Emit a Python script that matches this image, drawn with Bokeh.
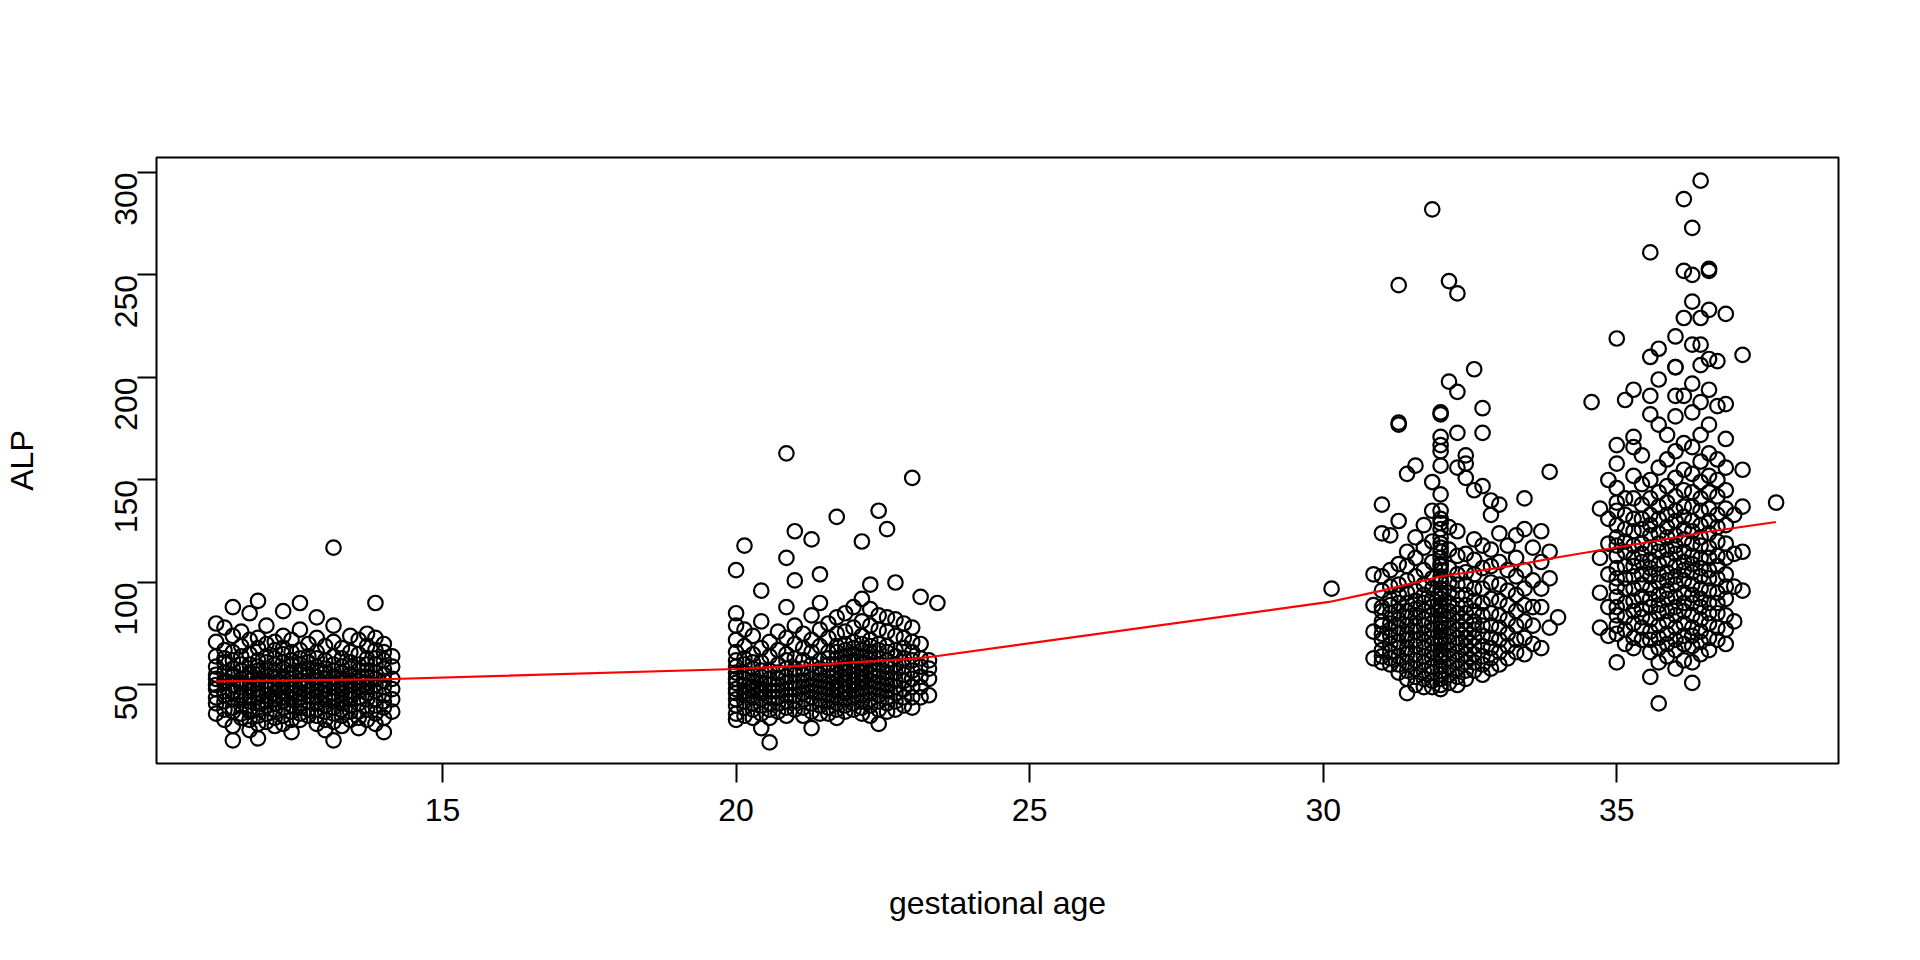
import math
from bokeh.plotting import figure
from bokeh.models import ColumnDataSource, Range1d, FixedTicker
from bokeh.embed import file_html
from bokeh.resources import INLINE

# ALP measurements by gestational age in days (x axis = days / 7 -> weeks)
visit1 = {
    78: [36, 41, 44, 48, 50, 53, 55, 59, 64, 71, 80],
    79: [33, 38, 42, 45, 47, 51, 52, 56, 61, 63, 67, 78],
    80: [23, 30, 37, 39, 43, 46, 47, 50, 54, 55, 58, 62, 66, 74, 88],
    81: [34, 36, 40, 44, 45, 49, 51, 53, 57, 60, 64, 69, 76],
    82: [28, 33, 37, 38, 42, 44, 47, 49, 52, 55, 56, 60, 65, 72, 85],
    83: [24, 31, 35, 39, 41, 44, 46, 48, 51, 53, 57, 59, 62, 68, 73, 91],
    84: [32, 36, 40, 42, 45, 48, 50, 52, 55, 58, 61, 64, 70, 79],
    85: [30, 34, 38, 41, 43, 46, 49, 51, 54, 57, 60, 63, 67, 71],
    86: [31, 35, 39, 42, 44, 47, 50, 53, 54, 58, 61, 65, 68, 74, 86],
    87: [27, 33, 37, 40, 43, 46, 48, 51, 53, 56, 60, 62, 66, 72],
    88: [33, 36, 39, 41, 44, 46, 49, 52, 55, 57, 60, 63, 67, 77, 90],
    89: [35, 38, 42, 45, 47, 50, 52, 55, 58, 61, 64, 70],
    90: [31, 35, 38, 41, 44, 47, 49, 52, 54, 57, 59, 63, 66, 73, 83],
    91: [28, 33, 37, 40, 43, 45, 48, 50, 53, 56, 58, 62, 69],
    92: [23, 32, 36, 39, 42, 44, 46, 49, 51, 54, 57, 60, 64, 71, 79, 117],
    93: [30, 35, 38, 41, 43, 46, 48, 51, 53, 56, 59, 63, 68],
    94: [33, 37, 40, 43, 45, 47, 50, 52, 55, 58, 61, 66, 74],
    95: [29, 34, 37, 41, 44, 47, 49, 52, 54, 57, 60, 65, 72],
    96: [33, 38, 43, 46, 49, 51, 54, 57, 60, 63, 69, 75],
    97: [31, 36, 40, 43, 47, 50, 53, 56, 60, 63, 67, 73, 90],
    98: [27, 34, 39, 42, 45, 49, 52, 55, 58, 62, 66, 70],
    99: [37, 43, 48, 53, 59, 64],
}
visit2 = {
    140: [33, 36, 40, 43, 46, 48, 51, 53, 56, 59, 62, 66, 72, 79, 85, 106],
    141: [35, 39, 42, 45, 47, 50, 53, 56, 60, 63, 69, 77, 118],
    142: [34, 38, 41, 44, 47, 49, 52, 55, 58, 61, 65, 74],
    143: [29, 36, 40, 43, 46, 48, 51, 54, 57, 61, 68, 81, 96],
    144: [22, 34, 38, 41, 44, 47, 50, 53, 57, 64, 71],
    145: [37, 41, 44, 47, 50, 53, 56, 60, 67, 76],
    146: [35, 39, 42, 45, 48, 51, 54, 58, 62, 65, 73, 88, 112, 163],
    147: [38, 42, 45, 48, 51, 55, 58, 63, 70, 79, 101, 125],
    148: [35, 39, 43, 46, 49, 52, 55, 58, 62, 68, 75],
    149: [29, 37, 41, 44, 47, 50, 53, 56, 60, 66, 72, 84, 121],
    150: [36, 40, 43, 46, 49, 52, 55, 58, 62, 69, 77, 90, 104],
    151: [36, 39, 42, 45, 48, 51, 54, 57, 60, 63, 66, 73, 80],
    152: [34, 38, 41, 44, 47, 49, 52, 55, 57, 60, 63, 66, 69, 75, 83, 132],
    153: [37, 40, 43, 46, 48, 51, 53, 56, 58, 61, 64, 67, 70, 76, 85],
    154: [38, 41, 44, 47, 50, 52, 55, 57, 60, 62, 65, 68, 71, 78, 88],
    155: [36, 39, 42, 45, 48, 51, 53, 56, 58, 61, 64, 67, 70, 74, 81, 92, 120],
    156: [35, 40, 43, 46, 49, 52, 55, 57, 60, 63, 66, 69, 72, 79, 87, 99],
    157: [31, 38, 42, 45, 48, 51, 54, 57, 60, 63, 67, 70, 77, 84, 135],
    158: [37, 41, 44, 47, 50, 53, 56, 59, 62, 66, 69, 76, 83, 126],
    159: [38, 42, 46, 49, 52, 56, 60, 64, 67, 74, 82, 100],
    160: [40, 44, 48, 52, 55, 59, 63, 68, 73, 80],
    161: [39, 44, 49, 53, 57, 62, 66, 71, 78, 151],
    162: [44, 49, 54, 59, 63, 70, 93],
    163: [45, 53, 58, 62],
    164: [90],
}
visit3 = {
    211: [97],
    216: [63, 76, 89, 104],
    217: [61, 64, 67, 72, 75, 79, 81, 86, 88, 96, 103, 124, 138],
    218: [60, 63, 66, 70, 74, 77, 80, 85, 89, 92, 98, 106, 123],
    219: [56, 60, 64, 68, 71, 75, 78, 82, 86, 90, 94, 99, 109, 130, 177, 178, 245],
    220: [46, 53, 57, 61, 65, 68, 72, 75, 79, 83, 86, 90, 95, 101, 108, 115, 153],
    221: [50, 54, 58, 62, 65, 69, 72, 76, 79, 83, 87, 91, 96, 103, 112, 122, 157],
    222: [49, 53, 57, 61, 64, 68, 71, 75, 79, 82, 86, 90, 94, 99, 106, 117, 128],
    223: [49, 52, 56, 59, 63, 66, 70, 73, 77, 80, 84, 88, 92, 97, 102, 110, 120, 135, 149, 282],
    224: [48, 50, 53, 55, 57, 59, 62, 64, 65, 67, 70, 72, 73, 76, 78, 80, 81, 84,
          86, 88, 89, 92, 94, 95, 97, 100, 101, 103, 106, 108, 109, 112, 115,
          117, 119, 122, 126, 129, 131, 135, 143, 157, 164, 167, 171, 182, 183],
    225: [51, 55, 59, 63, 67, 71, 74, 78, 82, 86, 90, 95, 100, 107, 116, 127, 198, 247],
    226: [50, 54, 58, 62, 66, 70, 73, 77, 81, 85, 89, 94, 99, 104, 113, 125, 156, 173, 193, 241],
    227: [53, 57, 61, 65, 69, 73, 77, 81, 85, 89, 94, 99, 105, 114, 151, 158, 162],
    228: [57, 61, 65, 69, 73, 77, 81, 86, 91, 97, 104, 111, 121, 145, 204],
    229: [55, 60, 64, 69, 74, 79, 84, 90, 97, 107, 118, 147, 173, 185],
    230: [58, 63, 68, 73, 79, 85, 92, 100, 108, 116, 133, 140],
    231: [60, 66, 72, 78, 84, 91, 99, 110, 124, 138],
    232: [63, 69, 75, 82, 89, 96, 106, 118],
    233: [66, 72, 79, 86, 94, 103, 112, 123],
    234: [65, 73, 81, 89, 97, 106, 126, 141],
    235: [70, 79, 88, 101, 117],
    236: [68, 88, 97, 110, 125],
    237: [78, 102, 115, 154],
    238: [83],
}
visit4 = {
    242: [188],
    243: [78, 95, 112, 136],
    244: [74, 88, 104, 119, 131, 150],
    245: [61, 75, 79, 84, 88, 93, 98, 102, 107, 113, 118, 122, 128, 135, 139, 146, 158, 167, 219],
    246: [70, 77, 83, 90, 97, 102, 108, 115, 120, 126, 133, 141, 189],
    247: [68, 73, 80, 86, 91, 97, 103, 108, 112, 118, 125, 131, 141, 152, 166, 171, 194],
    248: [72, 78, 83, 87, 93, 99, 104, 110, 114, 119, 126, 131, 138, 148, 162],
    249: [54, 66, 72, 76, 82, 88, 92, 97, 103, 107, 111, 117, 123, 128, 133, 141, 150, 182, 191, 210, 261],
    250: [41, 61, 68, 73, 79, 85, 89, 94, 100, 104, 109, 115, 119, 124, 131, 137, 144, 156, 177, 199, 214],
    251: [64, 70, 75, 81, 86, 92, 96, 101, 105, 111, 116, 122, 127, 133, 139, 147, 160, 172],
    252: [58, 67, 72, 78, 84, 88, 93, 99, 103, 108, 114, 118, 123, 130, 135, 142, 151, 164, 181, 191, 205, 205, 220],
    253: [62, 70, 74, 80, 86, 90, 95, 101, 106, 110, 115, 121, 126, 132, 137, 145, 155, 168, 191, 229, 252, 287],
    254: [51, 61, 69, 74, 78, 84, 90, 94, 99, 105, 109, 113, 119, 125, 130, 137, 144, 153, 166, 183, 197, 216, 237, 250, 273],
    255: [65, 71, 76, 82, 88, 92, 97, 103, 107, 112, 118, 122, 128, 135, 141, 149, 159, 172, 188, 206, 216, 229, 296],
    256: [67, 73, 80, 85, 90, 96, 102, 106, 112, 117, 124, 130, 136, 144, 152, 163, 177, 194, 209, 233, 252, 253],
    257: [72, 78, 85, 90, 95, 102, 108, 113, 120, 127, 133, 142, 150, 160, 186, 208],
    258: [70, 77, 84, 92, 98, 104, 112, 119, 128, 136, 145, 156, 170, 187, 231],
    259: [81, 98, 114, 133],
    260: [96, 115, 137, 155, 211],
    264: [139],
}

# lowess smooth (red line)
smooth_ga = [11.14, 14.0, 20.0, 21.0, 22.0, 23.0, 23.4, 30.1, 31.0, 32.0, 33.3, 34.0, 35.5, 36.5, 37.71]
smooth_alp = [51.8, 52.8, 57.8, 59.2, 61.0, 62.7, 64.0, 90.5, 96.0, 102.9, 108.5, 112.3, 119.5, 124.5, 129.5]

x_ticks = [15, 20, 25, 30, 35]
y_ticks = [50, 100, 150, 200, 250, 300]

ga, alp = [], []
for visit in (visit1, visit2, visit3, visit4):
    for day, vals in visit.items():
        ga += [day / 7] * len(vals)
        alp += vals
src = ColumnDataSource(data=dict(ga=ga, alp=alp))

FONT = "Liberation Sans"

p = figure(width=1904, height=944,
           x_range=Range1d(10.128, 38.777), y_range=Range1d(11.7, 307.3),
           output_backend="svg", toolbar_location=None,
           min_border_left=156, min_border_right=66,
           min_border_top=157, min_border_bottom=181)
p.grid.visible = False
p.outline_line_color = "black"
p.outline_line_width = 2
p.background_fill_color = "white"
p.border_fill_color = "white"

p.scatter("ga", "alp", source=src, marker="circle", size=14.5,
          fill_color=None, line_color="black", line_width=2.2)
p.line(smooth_ga, smooth_alp, line_color="red", line_width=2.2)

for ax, ticks in ((p.xaxis[0], x_ticks), (p.yaxis[0], y_ticks)):
    ax.ticker = FixedTicker(ticks=ticks)
    ax.axis_line_color = None
    ax.major_tick_line_color = "black"
    ax.major_tick_line_width = 2
    ax.major_tick_out = 19
    ax.major_tick_in = 0
    ax.minor_tick_line_color = None
    ax.major_label_text_font = FONT
    ax.major_label_text_font_size = "32px"
    ax.major_label_text_color = "black"
    ax.axis_label_text_font = FONT
    ax.axis_label_text_font_size = "32px"
    ax.axis_label_text_font_style = "normal"
    ax.axis_label_text_color = "black"

p.xaxis.axis_label = "gestational age"
p.xaxis.major_label_standoff = 16
p.xaxis.axis_label_standoff = 61
p.yaxis.axis_label = "ALP"
p.yaxis.major_label_orientation = math.pi / 2
p.yaxis.major_label_standoff = 11
p.yaxis.axis_label_standoff = 62

open("out.html", "w").write(file_html(p, INLINE))
